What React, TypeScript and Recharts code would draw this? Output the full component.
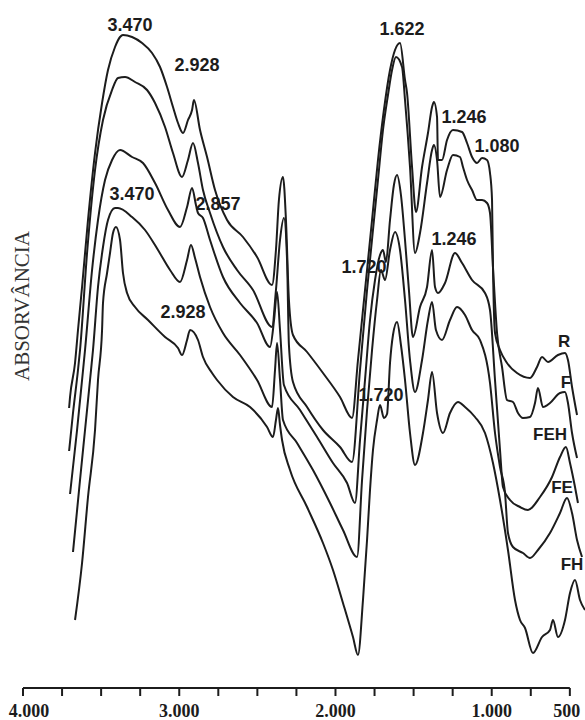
import { LineChart, Line, XAxis, YAxis, ReferenceLine, ReferenceDot } from 'recharts'

// Espectros FTIR: número de onda (cm-1) e absorvância relativa (u.a., com deslocamento)
const R_WN = [3705, 3699, 3667, 3648, 3622, 3584, 3539, 3494, 3456, 3411, 3379, 3360, 3302, 3238, 3174, 3123, 3078, 3040, 3008, 2976, 2944, 2918, 2906, 2867, 2822, 2771, 2694, 2592, 2502, 2406, 2381, 2362, 2336, 2317, 2298, 2272, 2182, 2080, 1971, 1894, 1856, 1811, 1766, 1728, 1690, 1651, 1619, 1587, 1555, 1542, 1510, 1485, 1446, 1408, 1382, 1370, 1350, 1344, 1318, 1286, 1248, 1190, 1158, 1126, 1094, 1062, 1030, 1011, 998, 992, 979, 947, 902, 838, 755, 710, 678, 640, 576, 531, 512, 486, 454]
const R_ABS = [2.8, 2.91, 3.25, 3.58, 4.01, 4.68, 5.35, 5.85, 6.18, 6.41, 6.51, 6.53, 6.51, 6.45, 6.35, 6.21, 6.01, 5.81, 5.65, 5.55, 5.68, 5.78, 5.88, 5.58, 5.31, 4.98, 4.68, 4.51, 4.31, 4.03, 4.38, 4.88, 5.11, 4.68, 3.88, 3.53, 3.36, 3.15, 2.91, 2.7, 3.28, 3.98, 4.68, 5.28, 5.78, 6.18, 6.38, 6.45, 6.08, 5.95, 5.21, 4.76, 5.21, 5.55, 5.81, 5.86, 5.71, 5.28, 5.28, 5.48, 5.58, 5.56, 5.45, 5.31, 5.25, 5.3, 5.28, 5.15, 4.88, 4.21, 3.55, 3.38, 3.25, 3.15, 3.1, 3.21, 3.31, 3.26, 3.33, 3.35, 3.28, 3.01, 2.73]

const F_WN = [3705, 3680, 3648, 3635, 3590, 3539, 3488, 3430, 3392, 3347, 3283, 3206, 3155, 3091, 3040, 2982, 2944, 2912, 2880, 2848, 2803, 2720, 2630, 2528, 2406, 2381, 2355, 2330, 2310, 2298, 2272, 2182, 2080, 1971, 1894, 1843, 1798, 1760, 1728, 1696, 1664, 1638, 1613, 1574, 1555, 1523, 1491, 1459, 1414, 1382, 1370, 1350, 1331, 1286, 1248, 1203, 1184, 1158, 1126, 1094, 1062, 1030, 1011, 992, 966, 934, 902, 864, 832, 800, 755, 723, 704, 672, 627, 563, 531, 512, 486, 454]
const F_ABS = [2.37, 2.75, 3.18, 3.38, 4.35, 5.18, 5.68, 5.98, 6.1, 6.11, 6.06, 5.98, 5.85, 5.61, 5.35, 5.11, 5.28, 5.45, 5.25, 4.98, 4.75, 4.41, 4.18, 3.98, 3.61, 3.98, 4.48, 4.7, 4.28, 3.43, 3.06, 2.81, 2.58, 2.41, 2.26, 3.18, 3.98, 4.58, 5.08, 5.58, 5.93, 6.18, 6.31, 6.21, 5.88, 5.21, 4.35, 4.55, 5.05, 5.38, 5.43, 5.28, 4.91, 5.18, 5.33, 5.31, 5.21, 5.08, 4.98, 4.88, 4.88, 4.85, 4.75, 4.21, 3.55, 3.21, 2.88, 2.86, 2.75, 2.7, 2.71, 2.85, 3.0, 2.81, 2.85, 2.95, 2.96, 2.85, 2.55, 2.3]

const FEH_WN = [3699, 3654, 3622, 3603, 3558, 3520, 3475, 3430, 3379, 3302, 3232, 3155, 3072, 2995, 2950, 2918, 2893, 2880, 2848, 2803, 2720, 2611, 2502, 2419, 2393, 2374, 2355, 2330, 2227, 2118, 2016, 1926, 1875, 1843, 1811, 1779, 1747, 1715, 1696, 1677, 1651, 1626, 1606, 1581, 1555, 1530, 1504, 1459, 1414, 1382, 1363, 1344, 1299, 1235, 1190, 1126, 1043, 1011, 979, 947, 928, 883, 819, 768, 691, 614, 563, 525, 499, 467, 448]
const FEH_ABS = [1.94, 2.58, 3.08, 3.38, 4.18, 4.68, 5.08, 5.28, 5.38, 5.31, 5.25, 5.05, 4.78, 4.61, 4.81, 5.0, 4.83, 4.75, 4.7, 4.48, 4.11, 3.85, 3.65, 3.41, 3.68, 3.96, 3.58, 3.03, 2.78, 2.51, 2.25, 2.05, 1.85, 2.48, 3.08, 3.68, 4.08, 4.33, 4.38, 4.26, 4.68, 5.03, 5.13, 4.93, 4.48, 3.98, 3.51, 3.81, 4.01, 4.38, 4.01, 3.95, 4.05, 4.35, 4.25, 4.08, 3.95, 3.78, 3.08, 2.38, 2.01, 1.88, 1.81, 1.78, 1.91, 2.11, 2.31, 2.41, 2.25, 2.01, 1.85]

const FE_WN = [3680, 3635, 3603, 3571, 3552, 3520, 3488, 3456, 3411, 3392, 3302, 3219, 3136, 3059, 2995, 2950, 2925, 2899, 2867, 2803, 2720, 2611, 2502, 2406, 2387, 2374, 2355, 2336, 2246, 2144, 2035, 1952, 1862, 1830, 1798, 1766, 1734, 1709, 1683, 1651, 1619, 1587, 1555, 1523, 1491, 1446, 1408, 1382, 1357, 1318, 1267, 1222, 1171, 1126, 1075, 1011, 979, 947, 915, 896, 864, 800, 755, 704, 627, 563, 518, 486, 454, 422]
const FE_ABS = [1.36, 2.08, 2.58, 3.08, 3.38, 4.01, 4.41, 4.68, 4.8, 4.8, 4.71, 4.58, 4.38, 4.18, 4.06, 4.28, 4.43, 4.3, 4.11, 3.81, 3.55, 3.33, 3.08, 2.81, 3.18, 3.45, 3.08, 2.68, 2.45, 2.18, 1.85, 1.58, 1.31, 2.08, 2.78, 3.38, 3.88, 4.18, 4.08, 4.38, 4.56, 4.38, 3.88, 3.28, 2.96, 3.28, 3.68, 3.86, 3.58, 3.48, 3.68, 3.81, 3.73, 3.58, 3.48, 3.05, 2.55, 2.21, 1.95, 1.55, 1.41, 1.35, 1.3, 1.38, 1.55, 1.75, 1.9, 1.75, 1.48, 1.31]

const FH_WN = [3667, 3622, 3584, 3539, 3520, 3494, 3488, 3462, 3443, 3424, 3405, 3379, 3360, 3334, 3283, 3200, 3091, 3008, 2982, 2950, 2931, 2880, 2848, 2790, 2758, 2656, 2547, 2438, 2400, 2381, 2368, 2355, 2342, 2291, 2182, 2080, 2016, 1952, 1888, 1856, 1824, 1798, 1779, 1760, 1734, 1715, 1690, 1670, 1651, 1632, 1606, 1581, 1555, 1523, 1491, 1440, 1408, 1382, 1350, 1312, 1267, 1216, 1171, 1107, 1043, 992, 947, 896, 851, 819, 787, 736, 678, 627, 608, 576, 531, 499, 467, 435, 403]
const FH_ABS = [0.68, 1.25, 1.91, 2.58, 3.08, 3.58, 3.85, 4.15, 4.35, 4.55, 4.61, 4.48, 4.15, 3.95, 3.81, 3.68, 3.51, 3.4, 3.33, 3.48, 3.58, 3.48, 3.31, 3.15, 3.08, 2.91, 2.81, 2.61, 2.51, 2.68, 2.8, 2.63, 2.48, 2.18, 1.81, 1.45, 1.18, 0.85, 0.51, 0.33, 0.88, 1.48, 1.98, 2.38, 2.68, 2.83, 2.7, 2.74, 3.25, 3.53, 3.66, 3.43, 3.08, 2.55, 2.23, 2.55, 2.88, 3.16, 2.75, 2.55, 2.75, 2.86, 2.81, 2.71, 2.55, 2.25, 1.88, 1.38, 0.88, 0.68, 0.6, 0.35, 0.51, 0.58, 0.68, 0.51, 0.68, 0.95, 1.08, 0.88, 0.78]

const SERIES_NAMES = ['R', 'F', 'FEH', 'FE', 'FH']
const X_TICKS = [4000, 3750, 3500, 3250, 3000, 2750, 2500, 2250, 2000, 1750, 1500, 1250, 1000, 750, 500]
const X_LABELED = [4000, 3000, 2000, 1000, 500]
const PEAK_TEXTS = ['3.470', '2.928', '3.470', '2.857', '2.928', '1.622', '1.246', '1.080', '1.246', '1.720', '1.720']

// posições das anotações (número de onda, absorvância)
const PEAK_POS = [
  [3315, 6.57], [2886, 6.17], [3302, 4.88], [2752, 4.78], [2976, 3.7], [1574, 6.53],
  [1177, 5.65], [966, 5.36], [1241, 4.43], [1817, 4.15], [1709, 2.87],
]
const NAME_POS = [[537, 3.41], [525, 3.0], [627, 2.48], [550, 1.95], [486, 1.18]]

const zip = (wn: number[], abs: number[]) => wn.map((w, i) => ({ wn: w, abs: abs[i] }))
const SERIES = [zip(R_WN, R_ABS), zip(F_WN, F_ABS), zip(FEH_WN, FEH_ABS), zip(FE_WN, FE_ABS), zip(FH_WN, FH_ABS)]

const INK = '#1c1c1c'

const fmtTick = (v: number) => (v >= 1000 ? v.toLocaleString('pt-BR') : String(v))

function XTick(props: any) {
  const { x, y, payload } = props
  if (!X_LABELED.includes(payload.value)) return null
  const shift = payload.value === 4000 ? 6 : payload.value === 500 ? -3 : 0
  return (
    <text x={x + shift} y={y + 19} textAnchor="middle" fontFamily="'Liberation Serif', serif" fontWeight="bold" fontSize={18} fill={INK}>
      {fmtTick(payload.value)}
    </text>
  )
}

const textShape = (txt: string, size: number) => (p: any) => (
  <text x={p.cx} y={p.cy} textAnchor="middle" fontFamily="'Liberation Sans', Arial, sans-serif" fontWeight="bold" fontSize={size} fill={INK}>
    {txt}
  </text>
)

export default function App() {
  return (
    <div style={{ position: 'absolute', left: 0, top: 0, width: 585, height: 720, background: '#fff' }}>
      <LineChart width={585} height={720} data={[]} margin={{ top: 8, right: 0, bottom: 0, left: 23 }}>
        <XAxis
          type="number"
          dataKey="wn"
          domain={[403, 4000]}
          reversed
          allowDataOverflow
          ticks={X_TICKS}
          interval={0}
          tickSize={8}
          axisLine={false}
          tickLine={{ stroke: INK, strokeWidth: 2 }}
          tick={<XTick />}
          height={32}
        />
        <YAxis type="number" domain={[0, 6.8]} hide width={0} allowDataOverflow />
        <ReferenceLine segment={[{ x: 4000, y: 0 }, { x: 500, y: 0 }]} stroke={INK} strokeWidth={2} />
        {SERIES.map((d, i) => (
          <Line
            key={SERIES_NAMES[i]}
            data={d}
            dataKey="abs"
            type="monotone"
            dot={false}
            stroke={INK}
            strokeWidth={2}
            isAnimationActive={false}
          />
        ))}
        {PEAK_TEXTS.map((t, i) => (
          <ReferenceDot key={'p' + i} x={PEAK_POS[i][0]} y={PEAK_POS[i][1]} r={0} shape={textShape(t, 18)} />
        ))}
        {SERIES_NAMES.map((n, i) => (
          <ReferenceDot key={'n' + i} x={NAME_POS[i][0]} y={NAME_POS[i][1]} r={0} shape={textShape(n, 17)} />
        ))}
      </LineChart>
      <div
        style={{
          position: 'absolute',
          left: 22,
          top: 306,
          transform: 'translate(-50%, -50%) rotate(-90deg)',
          fontFamily: "'Liberation Serif', serif",
          fontSize: 21,
          color: '#333',
          whiteSpace: 'nowrap',
        }}
      >
        ABSORVÂNCIA
      </div>
    </div>
  )
}
